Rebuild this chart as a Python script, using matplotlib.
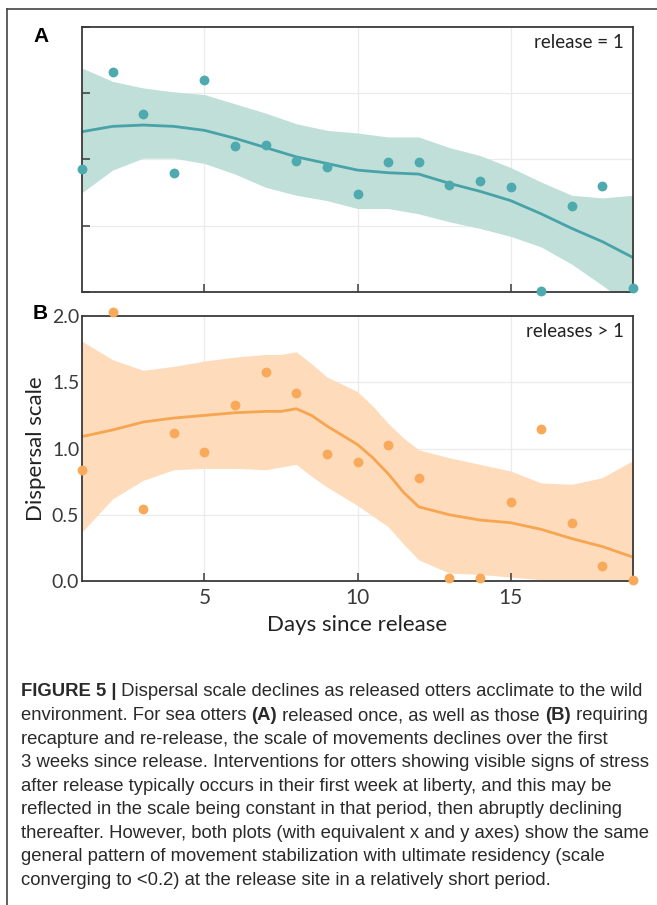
import matplotlib
matplotlib.use("Agg")
import matplotlib.pyplot as plt
from matplotlib.lines import Line2D
from matplotlib import font_manager

# observed dispersal scale per day (panel A: released once, panel B: released again)
days = list(range(1, 20))
a_points = [0.93, 1.66, 1.34, 0.90, 1.60, 1.10, 1.11, 0.99, 0.94, 0.74,
            0.98, 0.98, 0.81, 0.84, 0.79, 0.01, 0.65, 0.80, 0.03]
b_points = [0.84, 2.03, 0.54, 1.12, 0.97, 1.33, 1.58, 1.42, 0.96, 0.90,
            1.03, 0.78, 0.02, 0.02, 0.60, 1.15, 0.44, 0.11, 0.01]

# smoother + confidence band for panel A
a_fit_x = [1, 2, 3, 4, 5, 6, 7, 8, 9, 10, 11, 12, 13, 14, 15, 16, 17, 18, 19]
a_fit = [1.21, 1.25, 1.26, 1.25, 1.22, 1.16, 1.09, 1.02, 0.97, 0.92,
         0.90, 0.89, 0.82, 0.76, 0.69, 0.59, 0.48, 0.38, 0.26]
a_hi = [1.69, 1.59, 1.54, 1.51, 1.49, 1.42, 1.35, 1.27, 1.22, 1.20,
        1.17, 1.17, 1.09, 1.03, 0.94, 0.83, 0.73, 0.71, 0.73]
a_lo = [0.75, 0.92, 1.01, 1.01, 0.97, 0.89, 0.79, 0.73, 0.69, 0.63,
        0.63, 0.59, 0.53, 0.48, 0.42, 0.34, 0.21, 0.05, -0.12]

# smoother + confidence band for panel B
b_fit_x = [1, 2, 3, 4, 5, 6, 7, 7.5, 8, 8.5, 9, 10, 10.5, 11, 11.5, 12, 13, 14, 15, 16, 17, 18, 19]
b_fit = [1.09, 1.14, 1.20, 1.23, 1.25, 1.27, 1.28, 1.28, 1.30, 1.25, 1.17, 1.03, 0.93, 0.81,
         0.67, 0.56, 0.50, 0.46, 0.44, 0.39, 0.32, 0.26, 0.18]
b_hi = [1.81, 1.67, 1.59, 1.62, 1.66, 1.69, 1.71, 1.71, 1.73, 1.64, 1.54, 1.43, 1.32, 1.19,
        1.08, 0.99, 0.93, 0.88, 0.83, 0.74, 0.73, 0.78, 0.91]
b_lo = [0.37, 0.62, 0.76, 0.84, 0.85, 0.85, 0.84, 0.86, 0.88, 0.79, 0.71, 0.57, 0.49, 0.41,
        0.28, 0.16, 0.06, 0.05, 0.03, 0.01, -0.05, -0.05, -0.05]

x_ticks = [5, 10, 15]
y_ticks = [0.0, 0.5, 1.0, 1.5, 2.0]

caption = [
    [("FIGURE 5 |", True), (" Dispersal scale declines as released otters acclimate to the wild", False)],
    [("environment. For sea otters ", False), ("(A)", True), (" released once, as well as those ", False),
     ("(B)", True), (" requiring", False)],
    [("recapture and re-release, the scale of movements declines over the first", False)],
    [("3 weeks since release. Interventions for otters showing visible signs of stress", False)],
    [("after release typically occurs in their first week at liberty, and this may be", False)],
    [("reflected in the scale being constant in that period, then abruptly declining", False)],
    [("thereafter. However, both plots (with equivalent x and y axes) show the same", False)],
    [("general pattern of movement stabilization with ultimate residency (scale", False)],
    [("converging to <0.2) at the release site in a relatively short period.", False)],
]

names = {f.name for f in font_manager.fontManager.ttflist}
chart_font = "Lato" if "Lato" in names else "DejaVu Sans"
cap_font = "Liberation Sans"

W, H = 657, 905
fig = plt.figure(figsize=(W / 100, H / 100), dpi=100)
plt.rcParams['font.family'] = [chart_font, 'DejaVu Sans']

def px(x0, y0, x1, y1):
    return [x0 / W, 1 - y1 / H, (x1 - x0) / W, (y1 - y0) / H]

spine_col = "#3a3a3a"

def setup(ax):
    ax.set_xlim(1, 19)
    ax.set_ylim(0, 2)
    ax.set_xticks(x_ticks)
    ax.set_yticks(y_ticks)
    # light grid kept underneath the bands, ticks stay on top
    for xv in x_ticks:
        ax.axvline(xv, color="#ebebeb", lw=0.9, zorder=0)
    for yv in y_ticks[1:-1]:
        ax.axhline(yv, color="#ebebeb", lw=0.9, zorder=0)
    for s in ax.spines.values():
        s.set_color(spine_col)
        s.set_linewidth(1.3)
    ax.tick_params(direction="in", length=6, width=1.1, color=spine_col,
                   labelsize=15, labelcolor="#3a3a3a", pad=5)

# panel A
axA = fig.add_axes(px(82, 27, 633, 292))
setup(axA)
axA.fill_between(a_fit_x, a_lo, a_hi, color="#c0dfd8", lw=0, zorder=1)
axA.plot(a_fit_x, a_fit, color="#47a3a8", lw=2, zorder=2)
axA.scatter(days, a_points, s=50, color="#4eaaae", lw=0, zorder=5, clip_on=False)
axA.tick_params(labelbottom=False, labelleft=False)
axA.text(0.983, 0.94, "release = 1", transform=axA.transAxes, ha="right", va="center",
         fontsize=13.5, color="#222222")

# panel B
axB = fig.add_axes(px(82, 316, 633, 581))
setup(axB)
axB.fill_between(b_fit_x, b_lo, b_hi, color="#fedbbb", lw=0, zorder=1)
axB.plot(b_fit_x, b_fit, color="#f6a550", lw=2, zorder=2)
axB.scatter(days, b_points, s=50, color="#f8a95a", lw=0, zorder=5, clip_on=False)
axB.yaxis.set_major_formatter(matplotlib.ticker.FormatStrFormatter("%.1f"))
axB.tick_params(axis="y", length=0, pad=2, labelsize=14)
axB.set_xlabel("Days since release", fontsize=16, color="#222222", labelpad=5)
axB.set_ylabel("Dispersal scale", fontsize=16, color="#222222", labelpad=4)
axB.text(0.983, 0.94, "releases > 1", transform=axB.transAxes, ha="right", va="center",
         fontsize=13.5, color="#222222")

# panel letters
fig.text(41 / W, 1 - 36 / H, "A", fontsize=15, fontweight="bold", ha="center", va="center",
         family="Liberation Sans")
fig.text(40 / W, 1 - 313 / H, "B", fontsize=15, fontweight="bold", ha="center", va="center",
         family="Liberation Sans")

# frame around figure
fig.add_artist(Line2D([7 / W, 1], [1 - 9 / H, 1 - 9 / H], color="#444444", lw=1.2))
fig.add_artist(Line2D([7 / W, 7 / W], [0, 1 - 9 / H], color="#444444", lw=1.2))

# caption, drawn line by line so bold pieces can sit inline
renderer = fig.canvas.get_renderer()
y0, step, cap_size = 692, 23.5, 13.3
for i, line in enumerate(caption):
    x = 21
    y = 1 - (y0 + i * step) / H
    for txt, bold in line:
        t = fig.text(x / W, y, txt, fontsize=cap_size, family=[cap_font, "DejaVu Sans"],
                     fontweight="bold" if bold else "normal", color="#2a2a2a",
                     ha="left", va="center")
        x += t.get_window_extent(renderer).width

fig.savefig("out.png", dpi=100)
